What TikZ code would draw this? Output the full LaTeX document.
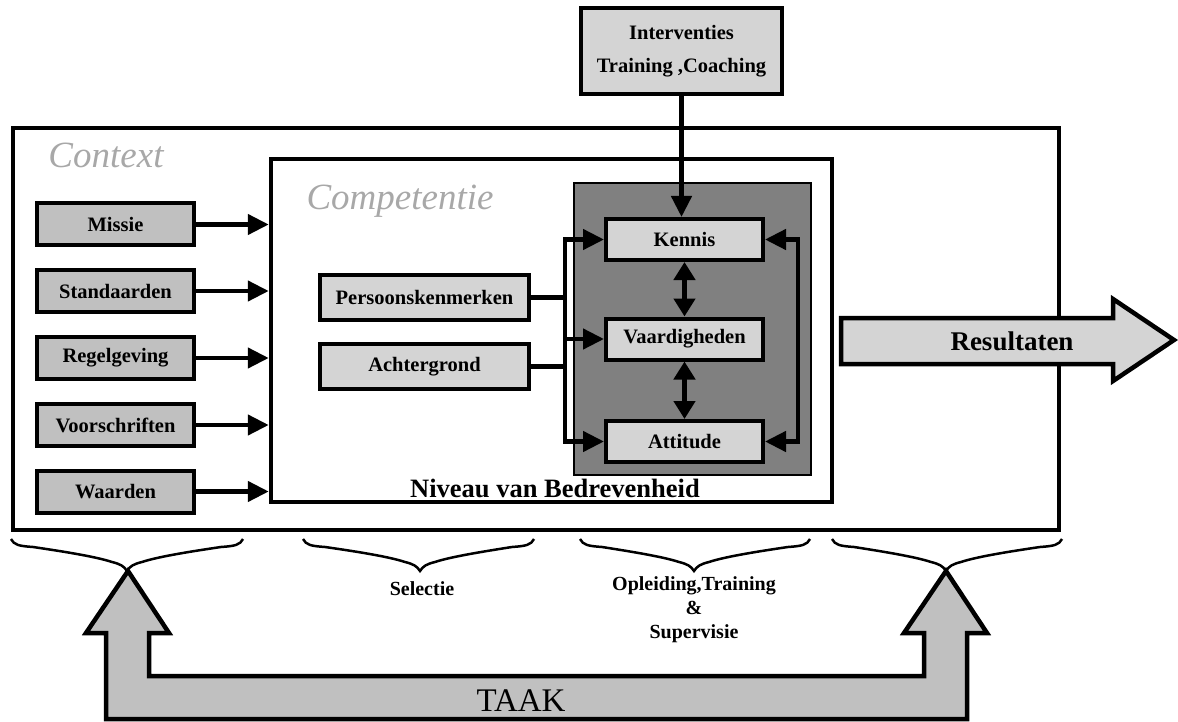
\documentclass[tikz,border=0pt]{standalone}
\usepackage{fontspec}
\setmainfont{Liberation Serif}
\usetikzlibrary{arrows.meta}
\definecolor{lg}{HTML}{D4D4D4}
\definecolor{mg}{HTML}{C0C0C0}
\definecolor{dg}{HTML}{808080}
\definecolor{tg}{HTML}{A8A8A8}
\tikzset{
  box/.style={draw, line width=4pt, fill=lg, inner sep=0pt, font=\bfseries\fontsize{20.5}{23}\selectfont},
  leftbox/.style={box, fill=mg, minimum width=157pt, minimum height=42pt},
  innerbox/.style={box, minimum width=157pt, minimum height=41pt},
  midbox/.style={box, minimum width=209pt, minimum height=45pt},
  frame/.style={draw, line width=4.5pt, inner sep=0pt},
  arr/.style={line width=4.5pt, -{Triangle[length=21pt,width=20pt]}},
  darr/.style={line width=4.5pt, {Triangle[length=18pt,width=21pt]}-{Triangle[length=18pt,width=21pt]}},
  bigarrow/.style={draw, line width=4.5pt, line join=miter},
  brace/.style={line width=2.5pt},
  label/.style={font=\bfseries\fontsize{20}{25}\selectfont, align=center, inner sep=0pt},
  titletext/.style={font=\itshape\fontsize{37}{40}\selectfont, text=tg, inner sep=0pt}
}
\begin{document}
\begin{tikzpicture}[x=1pt,y=-1pt]
\useasboundingbox (0,0) rectangle (1178,722);
% frames
\node[frame, minimum width=1046pt, minimum height=402pt] (ctx) at (536,329) {};
\node[frame, minimum width=561pt, minimum height=343pt] (comp) at (551.5,330.5) {};
\node[draw, line width=1.5pt, fill=dg, minimum width=237pt, minimum height=292pt, inner sep=0pt] (niv) at (692.5,329) {};
\node[titletext] (ctxt) at (106,155) {Context};
\node[titletext] (comptxt) at (400,201) {Competentie};
\node[font=\bfseries\fontsize{26.5}{30}\selectfont, inner sep=0pt, anchor=base] (nivtxt) at (555,497) {Niveau van Bedrevenheid};
% top box
\node[box, minimum width=201pt, minimum height=86pt, align=center, font=\bfseries\fontsize{20.5}{33}\selectfont] (interv) at (681.5,51) {Interventies\\Training ,Coaching};
% left boxes
\node[leftbox] (missie) at (115.5,224.5) {Missie};
\node[leftbox] (stand) at (115.5,291) {Standaarden};
\node[leftbox] (regel) at (115.5,358) {Regelgeving};
\node[leftbox] (voor) at (115.5,425) {Voorschriften};
\node[leftbox] (waard) at (115.5,491.5) {Waarden};
% middle boxes
\node[midbox] (pers) at (424.5,297.5) {Persoonskenmerken};
\node[midbox] (acht) at (424.5,366.5) {Achtergrond};
% inner boxes
\node[innerbox] (kennis) at (684.5,239.5) {Kennis};
\node[innerbox] (vaard) at (684.5,339) {Vaardigheden};
\node[innerbox] (att) at (684.5,441.5) {Attitude};
% left arrows
\foreach \n in {missie,stand,regel,voor,waard}
  \draw[arr] (\n.east) -- (\n.east -| comp.west);
% competence connectors
\coordinate (busL) at (565,0);
\coordinate (busR) at (798,0);
\draw[line width=4.5pt] (pers.east) -- (pers.east -| busL);
\draw[line width=4.5pt] (acht.east) -- (acht.east -| busL);
\draw[line width=4.5pt, line cap=rect] (kennis.west -| busL) -- (att.west -| busL);
\draw[arr] ([xshift=-2pt]kennis.west -| busL) -- (kennis.west);
\draw[arr] ([xshift=-2pt]vaard.west -| busL) -- (vaard.west);
\draw[arr] ([xshift=-2pt]att.west -| busL) -- (att.west);
\draw[darr] (kennis.south) -- (vaard.north);
\draw[darr] (vaard.south) -- (att.north);
\draw[line width=4.5pt, line join=miter, {Triangle[length=21pt,width=20pt]}-{Triangle[length=21pt,width=20pt]}] (kennis.east) -- (kennis.east -| busR) -- (att.east -| busR) -- (att.east);
\draw[arr] (interv.south) -- (interv.south |- kennis.north);
% Resultaten arrow
\draw[bigarrow, fill=lg] (841,318) -- (1113,318) -- (1113,299) -- (1174,340) -- (1113,381) -- (1113,364) -- (841,364) -- cycle;
\node[font=\bfseries\fontsize{27}{30}\selectfont, inner sep=0pt] (res) at (1012,341) {Resultaten};
% braces
\foreach \a/\m/\b in {11/127/243, 303/420/534, 580/694/810, 832/946/1062}{
  \draw[brace] (\a,539) .. controls (\a+3,545) and (\a+8,546) .. (\a+22,547)
     .. controls (\m-60,552) and (\m-30,557) .. (\m-15,562)
     .. controls (\m-7,564) and (\m-3,566) .. (\m,571)
     .. controls (\m+3,566) and (\m+7,564) .. (\m+15,562)
     .. controls (\m+30,557) and (\m+60,552) .. (\b-22,547)
     .. controls (\b-8,546) and (\b-3,545) .. (\b,539);
}
\node[label] (sel) at (422,589) {Selectie};
\node[label, font=\bfseries\fontsize{20}{24}\selectfont] (opl) at (694,610) {Opleiding,Training\\\&\\Supervisie};
% TAAK arrow
\draw[bigarrow, fill=mg] (128,571) -- (169,633) -- (149,633) -- (149,676) -- (924,676) -- (924,633) -- (904,633) -- (946,571) -- (987,633) -- (967,633) -- (967,719) -- (106,719) -- (106,633) -- (86,633) -- cycle;
\node[font=\fontsize{33}{36}\selectfont, inner sep=0pt] (taak) at (521,701) {TAAK};
\end{tikzpicture}
\end{document}
